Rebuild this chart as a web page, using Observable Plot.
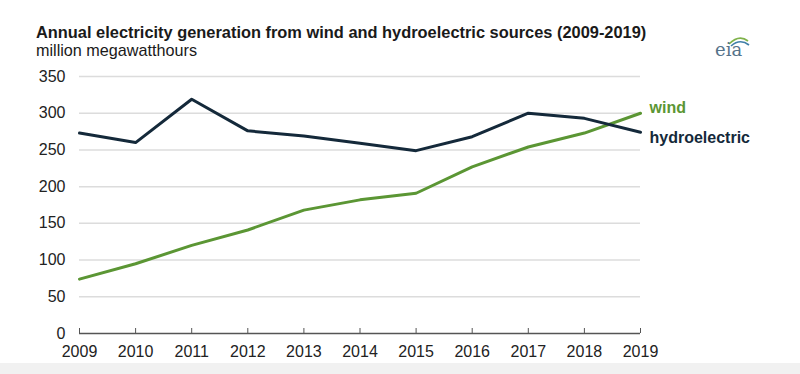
<!DOCTYPE html>
<html>
<head>
<meta charset="utf-8">
<script src="https://cdn.jsdelivr.net/npm/d3@7"></script>
<script src="https://cdn.jsdelivr.net/npm/@observablehq/plot@0.6"></script>
<style>
  html, body { margin: 0; padding: 0; background: #fff; }
  body { width: 800px; height: 374px; position: relative; overflow: hidden; font-family: "Liberation Sans", Arial, sans-serif; }
  #title { position: absolute; left: 36px; top: 24px; font-size: 16.4px; line-height: 1; font-weight: bold; color: #1a1a1a; white-space: nowrap; }
  #subtitle { position: absolute; left: 36px; top: 42px; font-size: 16.2px; line-height: 1; color: #1a1a1a; white-space: nowrap; }
  #logo { position: absolute; left: 712px; top: 30px; }
  #chart { position: absolute; left: 0; top: 60px; }
  #band { position: absolute; left: 0; top: 363px; width: 800px; height: 11px; background: #f1f1f1; }
</style>
</head>
<body>
<div id="title">Annual electricity generation from wind and hydroelectric sources (2009-2019)</div>
<div id="subtitle">million megawatthours</div>
<svg id="logo" width="40" height="30" viewBox="0 0 40 30">
  <path d="M17,14 Q27,4 36,11" fill="none" stroke="#7fb24a" stroke-width="1.6"/>
  <path d="M19,16 Q28,8 37,15" fill="none" stroke="#3f7fa8" stroke-width="1.6"/>
  <text x="3" y="26" font-family="DejaVu Serif, serif" font-size="18" fill="#56738a">eia</text>
</svg>
<div id="chart"></div>
<div id="band"></div>
<script>
const years = [2009, 2010, 2011, 2012, 2013, 2014, 2015, 2016, 2017, 2018, 2019];
const hydroelectric = [273, 260, 319, 276, 269, 259, 249, 268, 300, 293, 274];
const wind = [74, 95, 120, 141, 168, 182, 191, 227, 254, 273, 300];
const seriesNames = ["wind", "hydroelectric"];
const seriesColors = ["#5b9634", "#14293a"];
const yTicks = [0, 50, 100, 150, 200, 250, 300, 350];

const rows = [];
years.forEach((yr, i) => {
  rows.push({year: yr, value: wind[i], series: "wind"});
  rows.push({year: yr, value: hydroelectric[i], series: "hydroelectric"});
});

const chart = Plot.plot({
  width: 800,
  height: 303,
  marginTop: 16,
  marginBottom: 30,
  marginLeft: 79,
  marginRight: 160,
  style: {fontFamily: "'Liberation Sans', Arial, sans-serif", fontSize: "16px", color: "#222", background: "transparent"},
  x: {type: "linear", domain: [2009, 2019]},
  y: {domain: [0, 350]},
  color: {domain: seriesNames, range: seriesColors},
  marks: [
    Plot.ruleY(yTicks.filter(d => d > 0), {stroke: "#dcdcdc", strokeWidth: 1.5}),
    Plot.axisY({ticks: yTicks, tickSize: 0, tickPadding: 14, label: null, fontSize: 16}),
    Plot.axisX({ticks: years, tickSize: 0, tickPadding: 12, tickFormat: d => String(d), label: null, fontSize: 16}),
    Plot.axisX({ticks: years, tickSize: -5, tickFormat: () => "", label: null, stroke: "#555"}),
    Plot.ruleY([0], {stroke: "#555", strokeWidth: 1.5}),
    Plot.line(rows, {x: "year", y: "value", stroke: "series", strokeWidth: 3}),
    Plot.text(rows.filter(d => d.series === "wind"), Plot.selectLast({x: "year", y: "value", text: "series", fill: "#5b9634", textAnchor: "start", dx: 9, dy: -5, fontWeight: "bold", fontSize: 16})),
    Plot.text(rows.filter(d => d.series === "hydroelectric"), Plot.selectLast({x: "year", y: "value", text: "series", fill: "#14293a", textAnchor: "start", dx: 9, dy: 6, fontWeight: "bold", fontSize: 16}))
  ]
});
document.getElementById("chart").appendChild(chart);
</script>
</body>
</html>
